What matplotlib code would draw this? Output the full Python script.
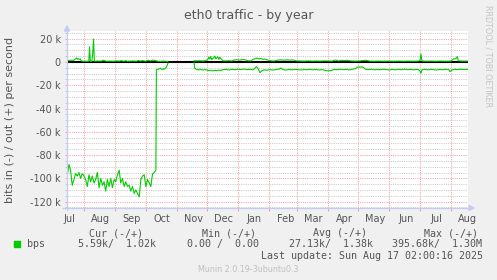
import numpy as np
import matplotlib
matplotlib.use('Agg')
import matplotlib.pyplot as plt
import matplotlib.dates as mdates
from matplotlib.lines import Line2D
from matplotlib.patches import Polygon, Rectangle
from matplotlib.ticker import FixedLocator

# days since 2024-07-15, values in kbit/s
start = np.datetime64('2024-07-15')

out_days_1 = [0, 2, 4, 6, 8, 9, 10, 11, 12, 13, 14, 15, 17, 19, 21.5, 22.2, 23, 24.5, 25.3, 26.2, 27,
              28, 30, 32, 34, 36, 38, 40, 43, 46, 49, 52, 54, 56, 58, 60, 63, 66, 69, 71, 73, 75,
              78, 81, 83, 85, 87, 90, 93, 96, 99, 100]
out_kbps_1 = [1.4, 1.2, 1.5, 1.3, 2.5, 3.4, 2.4, 2.8, 2.2, 2.6, 1.0, 0.6, 0.5, 0.6, 0.6, 13.0, 0.6, 0.5, 6.0, 19.7, 0.8,
              0.6, 0.8, 0.7, 0.7, 1.5, 0.8, 0.6, 0.7, 0.6, 0.8, 0.7, 1.1, 0.6, 1.0, 0.6, 0.7, 0.8, 0.6, 1.3, 0.7, 1.2,
              0.6, 1.5, 0.8, 1.5, 1.4, 0.6, 0.5, 0.7, 0.5, 0.4]

out_days_2 = [126.3, 129, 132, 135, 138, 140, 141, 142, 143, 144, 146, 147, 148, 150, 151, 152, 154, 155,
              158, 161, 164, 166, 169, 172, 175, 178, 180, 183, 185, 187, 189, 191, 193, 195, 197, 199,
              201, 204, 207, 210, 213, 216, 219, 222, 225, 228, 232, 236, 240, 244, 248, 252, 256, 260,
              264, 266, 268, 270, 273, 276, 279, 283, 287, 291, 295, 298, 301, 305, 310, 315, 320, 325,
              330, 335, 340, 345, 350, 351.5, 352.3, 353.3, 357, 362, 367, 372, 377, 382, 385, 387,
              388.5, 389.5, 392, 396, 399]
out_kbps_2 = [1.0, 0.9, 1.1, 0.8, 1.2, 2.0, 4.2, 2.5, 4.8, 2.0, 3.8, 5.1, 2.6, 4.4, 2.2, 4.0, 1.8, 1.0,
              0.9, 1.1, 0.8, 1.7, 1.9, 1.6, 2.0, 1.7, 1.0, 0.9, 2.3, 2.7, 3.3, 2.6, 3.0, 2.2, 2.6, 1.8,
              1.4, 0.8, 0.9, 1.7, 1.8, 1.5, 1.8, 1.6, 1.7, 0.9, 0.8, 0.7, 0.9, 0.7, 0.8, 0.7, 0.9, 0.8,
              0.7, 1.5, 1.6, 0.8, 1.4, 1.2, 1.4, 0.8, 0.7, 0.8, 1.3, 1.4, 0.7, 0.6, 0.7, 0.6, 0.7, 0.6,
              0.7, 0.6, 0.7, 0.6, 0.7, 1.5, 6.9, 0.8, 0.6, 0.7, 0.6, 0.7, 0.6, 0.7, 2.6, 2.8,
              4.6, 1.0, 0.8, 0.7, 0.8]

in_days_1 = [0, 1.7, 3.3, 5, 6.7, 8.3, 10, 11.7, 13.3, 15, 16.7, 18.3, 20, 21.7, 23.3, 25, 26.7, 28.3,
             30, 31.7, 33.3, 35, 36.7, 38.3, 40, 41.7, 43.3, 45, 46.7, 48.3, 50, 51.7, 53.3, 55, 56.7,
             58.3, 60, 61.7, 63.3, 65, 66.7, 68.3, 70, 71.7, 73.3, 75, 76.7, 78.3, 80, 81.7, 83.3, 85,
             86.7, 88.3, 88.8, 90, 91.5, 93, 94, 95.5, 97, 98.5, 99.5, 100.5]
in_kbps_1 = [-98, -88, -93, -106, -101, -96, -98, -95, -100, -96, -98, -101, -107, -97, -103, -98, -104, -101,
             -95, -108, -100, -106, -103, -111, -101, -107, -100, -108, -101, -103, -97, -93, -104, -100, -107,
             -103, -107, -106, -111, -107, -113, -110, -113, -116, -101, -98, -97, -107, -101, -104, -107, -96,
             -95, -93, -6.6, -6.4, -6.0, -5.3, -6.5, -6.0, -6.2, -4.8, -3.0, -0.8]

in_days_2 = [126.3, 127, 129, 131, 133, 135, 137, 139, 141, 143, 145, 147, 149, 151, 153, 155, 158, 161,
             164, 167, 170, 173, 176, 179, 182, 185, 187, 188.5, 190, 192, 194, 196, 199, 202, 205, 208,
             211, 213, 215, 218, 221, 224, 227, 230, 233, 236, 239, 242, 245, 248, 251, 254, 257, 260,
             263, 266, 269, 272, 275, 278, 281, 284, 287, 289, 292, 295, 297, 300, 303, 306, 309, 312,
             315, 318, 321, 324, 327, 330, 333, 336, 339, 342, 345, 348, 350, 351.5, 352.3, 353.3, 356,
             359, 362, 365, 368, 371, 374, 377, 380, 381.3, 383, 386, 389, 392, 395, 398, 399]
in_kbps_2 = [-0.5, -5.4, -6.5, -6.8, -6.3, -7.0, -6.6, -6.9, -7.4, -7.0, -7.7, -7.2, -7.6, -7.0, -7.3, -6.6, -6.4, -6.9,
             -6.3, -6.6, -6.2, -6.5, -6.1, -6.6, -6.3, -6.8, -5.2, -4.0, -5.6, -9.2, -7.6, -6.8, -7.1, -6.6, -7.0, -6.5,
             -6.2, -5.2, -6.6, -7.0, -6.4, -6.8, -6.3, -6.6, -6.9, -6.5, -6.7, -6.3, -6.8, -6.5, -6.9, -6.6, -7.2, -7.7,
             -7.3, -6.4, -6.7, -6.3, -6.6, -6.4, -6.8, -6.3, -5.8, -4.5, -4.3, -4.6, -6.3, -6.6, -6.2, -6.8, -6.4, -6.7,
             -6.2, -6.6, -6.9, -6.4, -6.8, -6.3, -6.7, -6.2, -6.6, -6.3, -6.8, -6.4, -6.6, -8.0, -9.7, -6.8, -6.4,
             -6.8, -6.3, -6.6, -7.0, -6.4, -6.7, -6.3, -6.6, -8.3, -6.9, -6.3, -6.6, -6.2, -6.5, -6.3, -6.4]

y_ticks = [20, 0, -20, -40, -60, -80, -100, -120]
y_labels = ['20 k', '0', '-20 k', '-40 k', '-60 k', '-80 k', '-100 k', '-120 k']
month_starts = ['2024-08-01', '2024-09-01', '2024-10-01', '2024-11-01', '2024-12-01', '2025-01-01',
                '2025-02-01', '2025-03-01', '2025-04-01', '2025-05-01', '2025-06-01', '2025-07-01', '2025-08-01']
month_labels = ['Jul', 'Aug', 'Sep', 'Oct', 'Nov', 'Dec', 'Jan', 'Feb', 'Mar', 'Apr', 'May', 'Jun', 'Jul', 'Aug']
label_months = ['2024-07-01'] + month_starts

legend_cols = ['Cur (-/+)', 'Min (-/+)', 'Avg (-/+)', 'Max (-/+)']
legend_vals = ['5.59k/  1.02k', '0.00 /  0.00', '27.13k/  1.38k', '395.68k/  1.30M']
last_update = 'Last update: Sun Aug 17 02:00:16 2025'

W, H = 497, 280
GREEN = '#00CC00'
TXT = '#555555'
AXC = '#C4CAF4'
MGRID = '#F0A0A0'
GRID = '#C8C8C8'

base = mdates.date2num(start.astype('datetime64[s]').astype(object))


def to_num(days):
    return base + np.asarray(days, dtype=float)


def fx(x):
    return x / W


def fy(y):
    return 1 - y / H


fig = plt.figure(figsize=(W / 100, H / 100), dpi=100, facecolor='#F0F0F0')
ax = fig.add_axes([fx(67), fy(208), 401 / W, 177 / H])
ax.set_facecolor('white')

ax.set_xlim(base - 0.23, base + 399.2)
ax.set_ylim(-125.5, 26.6)

# dotted grid
dots = (0, (1, 1.2))
for v in np.arange(-125, 26, 5):
    if v % 20 == 0:
        continue
    ax.axhline(v, color=GRID, lw=0.72, ls=dots, zorder=1)
for v in y_ticks:
    ax.axhline(v, color=MGRID, lw=0.72, ls=dots, zorder=1.5)
ms_num = [mdates.date2num(np.datetime64(m).astype(object)) for m in month_starts]
for m in ms_num:
    ax.axvline(m, color=MGRID, lw=0.72, ls=dots, zorder=1.5)

ax.axhline(0, color='black', lw=1.5, zorder=2)

lw = 0.8
ax.plot(to_num(in_days_1), in_kbps_1, color=GREEN, lw=lw, zorder=3)
ax.plot(to_num(in_days_2), in_kbps_2, color=GREEN, lw=lw, zorder=3)
ax.plot(to_num(out_days_1), out_kbps_1, color=GREEN, lw=lw, zorder=3)
ax.plot(to_num(out_days_2), out_kbps_2, color=GREEN, lw=lw, zorder=3)

for s in ax.spines.values():
    s.set_visible(False)

# y ticks
ax.yaxis.set_major_locator(FixedLocator(y_ticks))
ax.set_yticklabels(y_labels)
ax.yaxis.set_minor_locator(FixedLocator([v for v in np.arange(-125, 26, 5) if v % 20 != 0]))
ax.tick_params(axis='y', which='major', length=1.5, width=0.72, color=MGRID, pad=3,
               labelsize=7, labelcolor=TXT)
ax.tick_params(axis='y', which='minor', length=1.5, width=0.72, color=GRID)

# x ticks: marks at month starts, labels mid-month
ax.xaxis.set_major_locator(FixedLocator(ms_num))
ax.xaxis.set_major_formatter(plt.NullFormatter())
lab_pos = [mdates.date2num(np.datetime64(m).astype(object)) + 16.5 for m in label_months]
ax.xaxis.set_minor_locator(FixedLocator(lab_pos))
ax.xaxis.set_minor_formatter(plt.FixedFormatter(month_labels))
ax.tick_params(axis='x', which='major', length=2, width=0.72, color=MGRID)
ax.tick_params(axis='x', which='minor', length=0, pad=4, labelsize=7, labelcolor=TXT)

# axis lines with arrows
fig.add_artist(Line2D([fx(67), fx(67)], [fy(210), fy(29)], color=AXC, lw=0.9))
fig.add_artist(Line2D([fx(63), fx(470)], [fy(208), fy(208)], color=AXC, lw=0.9))
fig.add_artist(Polygon([[fx(64.5), fy(31)], [fx(69.5), fy(31)], [fx(67), fy(26)]], closed=True, color=AXC))
fig.add_artist(Polygon([[fx(469), fy(205.5)], [fx(469), fy(210.5)], [fx(474), fy(208)]], closed=True, color=AXC))

# texts
fig.text(fx(249), fy(18.5), 'eth0 traffic - by year', ha='center', va='baseline', fontsize=9, color=TXT)
fig.text(fx(10), fy(119.5), 'bits in (-) / out (+) per second', rotation=90, ha='center', va='center',
         fontsize=8, color=TXT)
fig.text(fx(488), fy(56.5), 'RRDTOOL / TOBI OETIKER', rotation=270, ha='center', va='center',
         fontsize=5.8, color='#C4C4C4')

mono = 'DejaVu Sans Mono'
col_x = [89, 202, 312.7, 424]
val_x = [78.3, 186.7, 289.3, 391.7]
for cx, t in zip(col_x, legend_cols):
    fig.text(fx(cx), fy(236), t, ha='left', va='baseline', family=mono, fontsize=7.2, color=TXT)
fig.add_artist(Rectangle((fx(14), fy(247)), 6 / W, 6 / H, color=GREEN))
fig.text(fx(26.7), fy(247.3), 'bps', ha='left', va='baseline', family=mono, fontsize=7.2, color=TXT)
for vx, t in zip(val_x, legend_vals):
    fig.text(fx(vx), fy(247.3), t, ha='left', va='baseline', family=mono, fontsize=7.2, color=TXT)
fig.text(fx(483.3), fy(259.3), last_update, ha='right', va='baseline', family=mono, fontsize=7.2, color=TXT)
fig.text(fx(248.5), fy(272), 'Munin 2.0.19-3ubuntu0.3', ha='center', va='baseline', fontsize=5.8,
         color='#C0C0C0')

fig.savefig('out.png', dpi=100, facecolor=fig.get_facecolor())
